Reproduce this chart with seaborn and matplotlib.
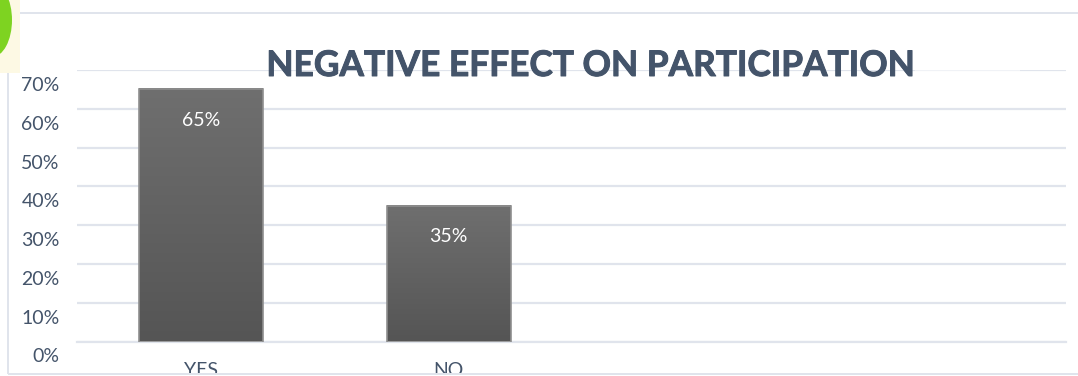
import numpy as np
import pandas as pd
import matplotlib
matplotlib.use("Agg")
import matplotlib.pyplot as plt
import matplotlib.patheffects as pe
from matplotlib.patches import Rectangle, Ellipse
from matplotlib.colors import LinearSegmentedColormap
from matplotlib.transforms import ScaledTranslation
import seaborn as sns

categories = ["YES", "NO"]
values = [65, 35]
yticks = [0, 10, 20, 30, 40, 50, 60, 70]
value_labels = ["65%", "35%"]
title = "NEGATIVE EFFECT ON PARTICIPATION"

W, H = 1078, 376
sns.set_theme(style="white")
plt.rcParams["font.family"] = ["Lato", "DejaVu Sans"]

TEXT = "#44546a"
GRID = "#e0e4ec"

fig = plt.figure(figsize=(W / 100, H / 100), dpi=100, facecolor="white")
ax = fig.add_axes([77 / W, 1 - 341.5 / H, (1066 - 77) / W, (341.5 - 70) / H])
df = pd.DataFrame({"cat": categories, "val": values})
sns.barplot(data=df, x="cat", y="val", ax=ax, color="#606060", width=0.5,
            saturation=1, edgecolor="#8f8f8f", linewidth=1.2, zorder=4)

ax.set_yticks(yticks)
ax.set_yticklabels([f"{t}%" for t in yticks])
ax.set_xlabel("")
ax.set_ylabel("")
ax.grid(axis="y", color=GRID, lw=1.6, zorder=0)
ax.grid(axis="x", visible=False)
for s in ax.spines.values():
    s.set_visible(False)
ax.spines["bottom"].set_visible(True)
ax.spines["bottom"].set_color(GRID)
ax.spines["bottom"].set_linewidth(1.6)
ax.tick_params(axis="y", length=0, labelsize=14, labelcolor=TEXT, pad=12.5)
ax.tick_params(axis="x", length=0, labelsize=14, labelcolor=TEXT, pad=15)
offset = ScaledTranslation(0, -15.5 / 100, fig.dpi_scale_trans)
for lab in ax.get_yticklabels():
    lab.set_verticalalignment("center")
    lab.set_transform(lab.get_transform() + offset)

# vertical gradient inside each bar, labels inside
cmap = LinearSegmentedColormap.from_list("bar", ["#6f6f6f", "#555555"])
grad = np.linspace(0, 1, 128).reshape(-1, 1)
for bar, lab in zip(ax.patches[:2], value_labels):
    x0, w, h = bar.get_x(), bar.get_width(), bar.get_height()
    bar.set_facecolor("none")
    im = ax.imshow(grad, cmap=cmap, extent=[x0, x0 + w, 0, h], aspect="auto",
                   zorder=3.5, vmin=0, vmax=1)
    ax.text(x0 + w / 2, h - 7.9, lab, ha="center", va="center", color="white",
            fontsize=14, zorder=5)
ax.set_xlim(-0.5, 3.49)
ax.set_ylim(0, 70)


def px_rect(x, y, w, h, **kw):
    fig.add_artist(Rectangle((x / W, 1 - (y + h) / H), w / W, h / H,
                             transform=fig.transFigure, **kw))


# faded stretch of the top gridline right of the title
px_rect(915, 68, 105, 4, fc="white", ec="none", alpha=0.55, zorder=5)

fig.text(591 / W, 1 - 66 / H, title, ha="center", va="center", color=TEXT,
         fontsize=25.4, fontweight="bold", zorder=6,
         path_effects=[pe.withStroke(linewidth=0.7, foreground=TEXT)])

# outer chart frame, cropping strip and logo fragment in figure pixels
px_rect(0, 373.5, W, 3, fc="white", ec="none", zorder=7)
px_rect(8, 373, W - 8, 1.6, fc=GRID, ec="none", zorder=8)
px_rect(7, 73, 1.6, 301, fc=GRID, ec="none", zorder=8)
px_rect(20, 12.5, W - 20, 1.6, fc=GRID, ec="none", zorder=8)
px_rect(0, 0, 20, 73, fc="#fdf9e4", ec="none", zorder=8)
fig.add_artist(Ellipse((-8 / W, 1 - 20 / H), 40 / W, 74 / H,
                       transform=fig.transFigure, fc="#7ed321",
                       ec="none", zorder=9))
fig.savefig("out.png", dpi=100)
